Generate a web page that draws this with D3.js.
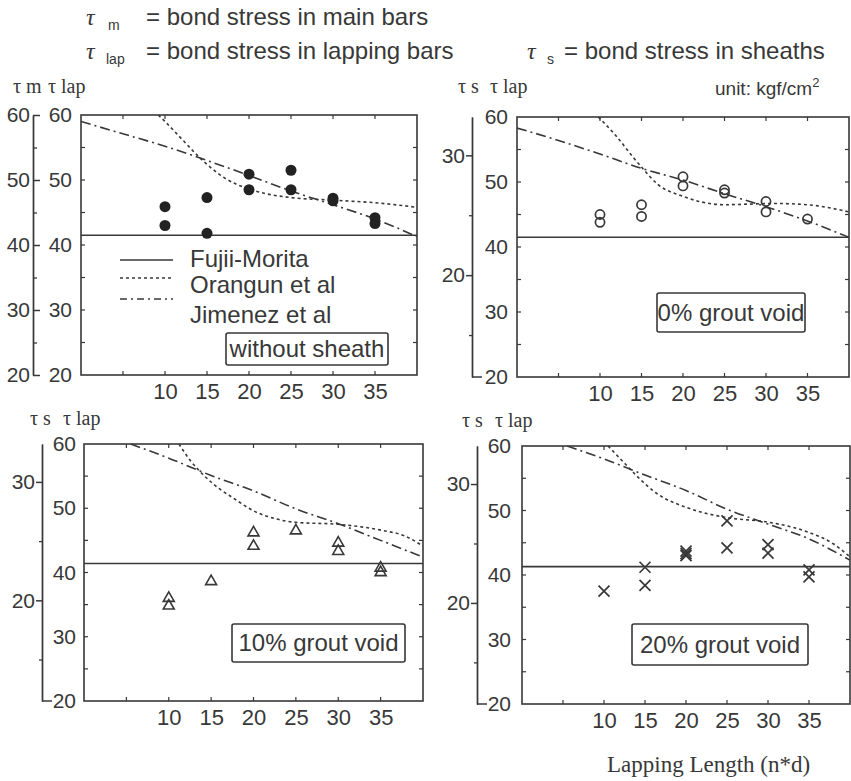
<!DOCTYPE html>
<html><head><meta charset="utf-8">
<script src="https://cdn.jsdelivr.net/npm/d3@7"></script>
<style>body{margin:0;background:#fff}</style>
</head><body>
<script>
// ---------------- data ----------------
const xTickValues = [10, 15, 20, 25, 30, 35];
const lapTickValues = [20, 30, 40, 50, 60];
const sheathTickValues = [20, 30];
const panelNotes = ["without sheath", "0% grout void", "10% grout void", "20% grout void"];
const legendNames = ["Fujii-Morita", "Orangun et al", "Jimenez et al"];
const fujiiMorita = [41.5, 41.5, 41.4, 41.3];

const jimenezNoSheath = [[0,59.0],[5,57.1],[10,55.2],[15,53.0],[20,50.7],[25,48.3],[30,46.2],[35,44.0],[40,41.3]];
const jimenezVoid0    = [[0,58.3],[5,56.4],[10,54.3],[15,52.1],[20,50.3],[25,48.2],[30,46.2],[35,44.0],[40,41.5]];
const jimenezVoid10   = [[5.5,60],[10,57.8],[15,55.1],[20,52.7],[25,49.9],[30,47.6],[35,45.0],[40,42.4]];
const jimenezVoid20   = [[5.5,60],[10,58.0],[15,55.5],[20,53.1],[25,50.2],[30,47.9],[35,45.6],[40,42.3]];

const orangunNoSheath = [[9.2,60],[10,59.0],[12,56.3],[14,53.6],[15,52.4],[17,50.4],[20,48.6],[22,47.9],[25,47.3],[30,46.9],[35,46.5],[40,45.8]];
const orangunVoid0    = [[9.8,60],[12,57.0],[14,53.8],[15,52.3],[17,49.6],[20,47.8],[22,47.0],[25,46.5],[28,46.6],[31,46.7],[35,46.5],[40,45.4]];
const orangunVoid10   = [[11.2,60],[12.5,57.5],[14,55.3],[16,53.0],[17.6,51.6],[20,49.6],[22.5,48.4],[25,47.8],[30,47.5],[35,46.6],[38,45.6],[40,44.1]];
const orangunVoid20   = [[10.5,60],[12.6,57.2],[14.2,55.1],[16.6,52.5],[20,50.5],[25,48.9],[30,48.2],[35,46.6],[38,44.8],[40,42.8]];

const testNoSheath = [[10,45.9],[10,43.0],[15,47.3],[15,41.8],[20,50.9],[20,48.5],[25,51.5],[25,48.5],[30,47.2],[30,46.8],[35,44.2],[35,43.3]];
const testVoid0    = [[10,45.0],[10,43.8],[15,46.5],[15,44.7],[20,50.8],[20,49.4],[25,48.8],[25,48.3],[30,47.0],[30,45.4],[35,44.3]];
const testVoid10   = [[10,36.0],[10,34.8],[15,38.6],[20,46.2],[20,44.1],[25,46.5],[30,44.6],[30,43.3],[35,40.7],[35,40.0]];
const testVoid20   = [[10,37.5],[15,41.2],[15,38.4],[20,43.7],[20,43.0],[20,43.3],[25,48.4],[25,44.2],[30,44.7],[30,43.4],[35,40.8],[35,39.7]];

// ---------------- drawing ----------------
const W = 851, H = 781;
const ink = "#383838";
const sans = "'Liberation Sans', Arial, sans-serif";
const serif = "'Liberation Serif', 'Times New Roman', serif";

const svg = d3.select("body").append("svg").attr("width", W).attr("height", H)
  .style("background", "#fff");

const panels = [
  {x0:81, x1:417, yt:115, yb:375, ox:33, outer:"lap", innerRight:72, lbl:[13,48,93,"m"], note:[226,333,162,32], marker:"dot",
   jim:jimenezNoSheath, ora:orangunNoSheath, pts:testNoSheath},
  {x0:517, x1:849, yt:117, yb:377, ox:472, outer:"sheath", innerRight:508, lbl:[458,490,93,"s"], note:[657,293,148,39], marker:"circle",
   jim:jimenezVoid0, ora:orangunVoid0, pts:testVoid0},
  {x0:84, x1:423, yt:444, yb:701, ox:42, outer:"sheath", innerRight:76, lbl:[30,63,425,"s"], note:[232,624,173,38], marker:"tri",
   jim:jimenezVoid10, ora:orangunVoid10, pts:testVoid10},
  {x0:522, x1:850, yt:446, yb:704, ox:477, outer:"sheath", innerRight:511, lbl:[462,495,427,"s"], note:[632,624,176,41], marker:"x",
   jim:jimenezVoid20, ora:orangunVoid20, pts:testVoid20}
];

const dashOrangun = "3,3";
const dashJimenez = "10,4,2,4";

panels.forEach((p, i) => {
  const g = svg.append("g");
  const x = d3.scaleLinear().domain([0, 40]).range([p.x0, p.x1]);
  const y = d3.scaleLinear().domain([20, 60]).range([p.yb, p.yt]);

  const clipId = "clip" + i;
  svg.append("clipPath").attr("id", clipId).append("rect")
    .attr("x", p.x0).attr("y", p.yt).attr("width", p.x1 - p.x0).attr("height", p.yb - p.yt);

  // box
  g.append("rect").attr("x", p.x0).attr("y", p.yt).attr("width", p.x1 - p.x0).attr("height", p.yb - p.yt)
    .attr("fill", "none").attr("stroke", ink).attr("stroke-width", 1.6);

  // inward ticks on box edges
  const minorX = d3.range(5, 40, 5);
  const minorY = d3.range(25, 60, 5);
  const tickG = g.append("g").attr("stroke", ink).attr("stroke-width", 1.2);
  minorX.forEach(v => {
    tickG.append("line").attr("x1", x(v)).attr("x2", x(v)).attr("y1", p.yb).attr("y2", p.yb - 4);
    tickG.append("line").attr("x1", x(v)).attr("x2", x(v)).attr("y1", p.yt).attr("y2", p.yt + 4);
  });
  minorY.forEach(v => {
    tickG.append("line").attr("x1", p.x0).attr("x2", p.x0 + 4).attr("y1", y(v)).attr("y2", y(v));
    tickG.append("line").attr("x1", p.x1).attr("x2", p.x1 - 4).attr("y1", y(v)).attr("y2", y(v));
  });

  // x labels
  const xa = g.append("g").attr("transform", `translate(0,${p.yb})`)
    .call(d3.axisBottom(x).tickValues(xTickValues).tickSize(0).tickPadding(8));
  xa.select(".domain").remove();
  xa.selectAll("text").attr("font-family", sans).attr("font-size", 22).attr("fill", ink);

  // inner y labels (tau lap)
  const ya = g.append("g").attr("transform", `translate(${p.x0},0)`)
    .call(d3.axisLeft(y).tickValues(lapTickValues).tickSize(0).tickPadding(p.x0 - p.innerRight));
  ya.select(".domain").remove();
  ya.selectAll("text").attr("font-family", sans).attr("font-size", 21).attr("fill", ink);

  // outer axis
  let oa;
  if (p.outer === "lap") {
    oa = g.append("g").attr("transform", `translate(${p.ox},0)`)
      .call(d3.axisLeft(y).tickValues(lapTickValues).tickSizeInner(-7).tickSizeOuter(0).tickPadding(3));
    g.append("g").attr("transform", `translate(${p.ox},0)`)
      .call(d3.axisLeft(y).tickValues([25,35,45,55]).tickSizeInner(-4).tickSizeOuter(0).tickFormat(""))
      .selectAll("line,path").attr("stroke", ink).attr("stroke-width", 1.3);
  } else {
    const s = d3.scaleLinear().domain([11.5, 33.2]).range([p.yb, p.yt]);
    oa = g.append("g").attr("transform", `translate(${p.ox},0)`)
      .call(d3.axisLeft(s).tickValues(sheathTickValues).tickSizeInner(6).tickSizeOuter(0).tickPadding(1));
    g.append("g").attr("transform", `translate(${p.ox},0)`)
      .call(d3.axisLeft(s).tickValues([15, 25]).tickSizeInner(3).tickSizeOuter(0).tickFormat(""))
      .selectAll("line,path").attr("stroke", ink).attr("stroke-width", 1.3);
    g.append("line").attr("x1", p.ox).attr("x2", p.ox + 10).attr("y1", p.yb).attr("y2", p.yb)
      .attr("stroke", ink).attr("stroke-width", 1.5);
  }
  oa.selectAll("line,path").attr("stroke", ink).attr("stroke-width", 1.5);
  oa.selectAll("text").attr("font-family", sans).attr("font-size", 21).attr("fill", ink);

  // curves
  const plot = g.append("g").attr("clip-path", `url(#${clipId})`);
  plot.append("line").attr("x1", x(0)).attr("x2", x(40))
    .attr("y1", y(fujiiMorita[i])).attr("y2", y(fujiiMorita[i]))
    .attr("stroke", ink).attr("stroke-width", 1.6);
  const line = d3.line().x(d => x(d[0])).y(d => y(d[1])).curve(d3.curveMonotoneX);
  plot.append("path").datum(p.ora).attr("d", line).attr("fill", "none")
    .attr("stroke", ink).attr("stroke-width", 1.6).attr("stroke-dasharray", dashOrangun);
  plot.append("path").datum(p.jim).attr("d", line).attr("fill", "none")
    .attr("stroke", ink).attr("stroke-width", 1.6).attr("stroke-dasharray", dashJimenez);

  // markers
  const mg = g.append("g");
  p.pts.forEach(d => {
    const cx = x(d[0]), cy = y(d[1]);
    if (p.marker === "dot") {
      mg.append("circle").attr("cx", cx).attr("cy", cy).attr("r", 5.5).attr("fill", "#222");
    } else if (p.marker === "circle") {
      mg.append("circle").attr("cx", cx).attr("cy", cy).attr("r", 4.6).attr("fill", "none")
        .attr("stroke", ink).attr("stroke-width", 1.7);
    } else if (p.marker === "tri") {
      mg.append("path").attr("transform", `translate(${cx},${cy})`)
        .attr("d", d3.symbol().type(d3.symbolTriangle).size(52)())
        .attr("fill", "none").attr("stroke", ink).attr("stroke-width", 1.6);
    } else {
      const r = 5.5;
      mg.append("path").attr("d", `M${cx-r},${cy-r}L${cx+r},${cy+r}M${cx-r},${cy+r}L${cx+r},${cy-r}`)
        .attr("stroke", ink).attr("stroke-width", 1.7);
    }
  });

  // note box
  const [nx, ny, nw, nh] = p.note;
  g.append("rect").attr("x", nx).attr("y", ny).attr("width", nw).attr("height", nh).attr("rx", 2)
    .attr("fill", "none").attr("stroke", ink).attr("stroke-width", 1.6);
  g.append("text").attr("x", nx + nw / 2).attr("y", ny + nh / 2 + 8).attr("text-anchor", "middle")
    .attr("font-family", sans).attr("font-size", 24).attr("fill", ink).text(panelNotes[i]);

  // row label
  const [lx1, lx2, ly, sub] = p.lbl;
  g.append("text").attr("x", lx1).attr("y", ly).attr("font-family", serif).attr("font-size", 20).attr("fill", ink)
    .text("τ " + sub);
  g.append("text").attr("x", lx2).attr("y", ly).attr("font-family", serif).attr("font-size", 20).attr("fill", ink)
    .text("τ lap");
});

// legend (top-left panel)
const legendY = [260, 278, 299];
const legendTextY = [267, 293, 323];
const legendDash = [null, dashOrangun, "7,4,2,4"];
legendNames.forEach((n, k) => {
  svg.append("line").attr("x1", 120).attr("x2", 173).attr("y1", legendY[k]).attr("y2", legendY[k])
    .attr("stroke", ink).attr("stroke-width", 1.6).attr("stroke-dasharray", legendDash[k]);
  svg.append("text").attr("x", 190).attr("y", legendTextY[k]).attr("font-family", sans)
    .attr("font-size", 24).attr("fill", ink).text(n);
});

// header
function header(x, y, sub, subDx, rest, restX) {
  const t = svg.append("text").attr("x", x).attr("y", y).attr("font-family", serif)
    .attr("font-size", 24).attr("font-style", "italic").attr("fill", ink).text("τ");
  svg.append("text").attr("x", x + subDx).attr("y", y + 5).attr("font-family", sans)
    .attr("font-size", 14).attr("fill", ink).text(sub);
  svg.append("text").attr("x", restX).attr("y", y).attr("font-family", sans)
    .attr("font-size", 24).attr("fill", ink).text(rest);
}
header(86, 25, "m", 22, "= bond stress in main bars", 146);
header(86, 59, "lap", 20, "= bond stress in lapping bars", 146);
header(527, 59, "s", 20, "= bond stress in sheaths", 564);

// unit
const u = svg.append("text").attr("x", 715).attr("y", 95).attr("font-family", sans)
  .attr("font-size", 19).attr("fill", ink);
u.append("tspan").text("unit: kgf/cm");
u.append("tspan").attr("dy", -8).attr("font-size", 13).text("2");

// x title
svg.append("text").attr("x", 607).attr("y", 772).attr("font-family", serif)
  .attr("font-size", 23).attr("fill", ink).text("Lapping Length (n*d)");
</script>
</body></html>
